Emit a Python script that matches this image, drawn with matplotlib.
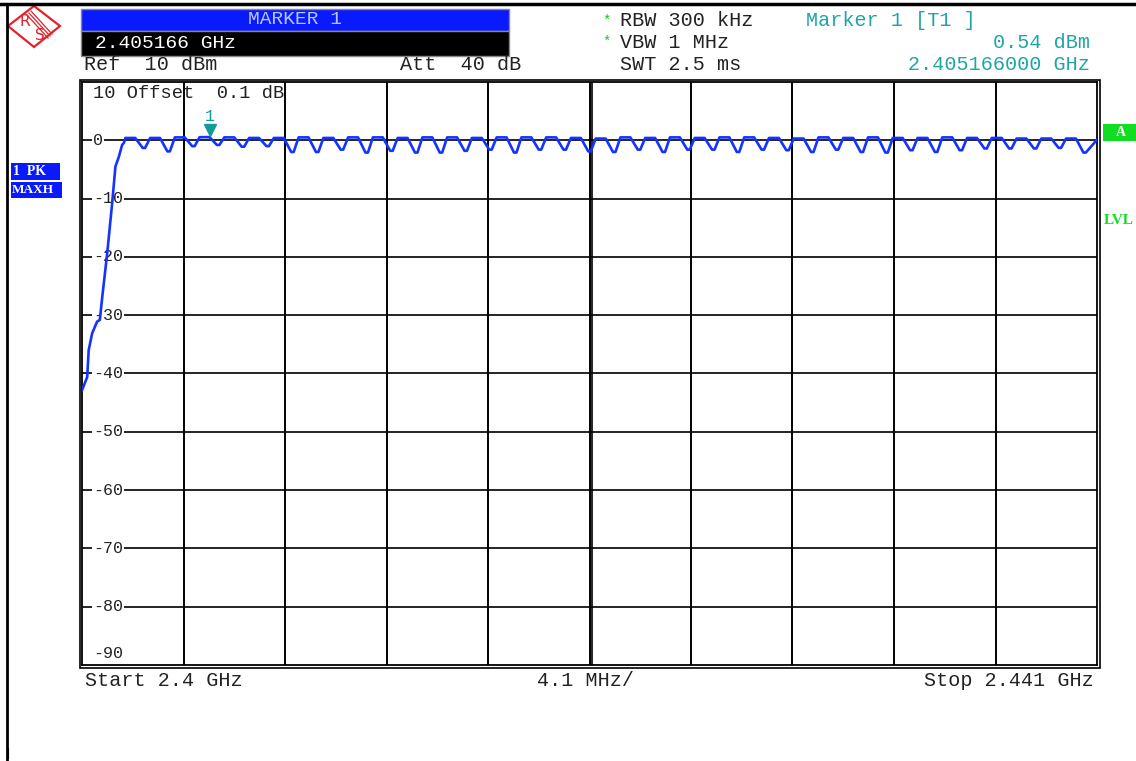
import matplotlib
matplotlib.use("Agg")
import matplotlib.pyplot as plt
from matplotlib.patches import Rectangle, Polygon

plt.rcParams['font.family'] = ['Liberation Mono', 'DejaVu Sans Mono']

# span in MHz from start frequency 2.4 GHz
span_mhz = 41.0
start_label = "Start 2.4 GHz"
stop_label = "Stop 2.441 GHz"
div_label = "4.1 MHz/"
y_ticks = [0, -10, -20, -30, -40, -50, -60, -70, -80]

# skirt at the left edge (MHz, dBm)
skirt_mhz = [0.0, 0.21, 0.27, 0.41, 0.61, 0.72, 0.82, 1.02, 1.22, 1.35, 1.49, 1.62, 1.70]
skirt_dbm = [-42.9, -40.6, -36.0, -33.1, -31.1, -30.8, -26.8, -19.3, -10.7, -4.5, -2.8, -0.8, -0.4]

# hopping channels (MHz offset), plateau level and dip level after each one
channels = list(range(2, 41))
top_dbm = [0.4, 0.4, 0.5, 0.54, 0.5, 0.4, 0.4, 0.5, 0.4, 0.5,
           0.5, 0.4, 0.5, 0.5, 0.4, 0.5, 0.5, 0.5, 0.4, 0.3,
           0.5, 0.4, 0.5, 0.4, 0.5, 0.5, 0.4, 0.3, 0.5, 0.4,
           0.5, 0.4, 0.4, 0.5, 0.4, 0.4, 0.3, 0.3, 0.3]
dip_dbm = [-1.3, -1.9, -1.0, -0.8, -1.1, -1.0, -2.0, -2.0, -1.6, -2.1,
           -1.8, -2.1, -2.1, -1.8, -1.6, -2.1, -1.6, -1.6, -1.9, -2.0,
           -1.6, -2.0, -1.6, -1.6, -2.0, -1.6, -1.7, -2.0, -1.6, -2.0,
           -2.1, -1.7, -2.0, -1.7, -1.4, -1.4, -1.4, -1.3, -2.1]
end_dbm = 0.1

marker_mhz = 5.166
marker_dbm = 0.54

# build the trace polyline
tx = list(skirt_mhz)
ty = list(skirt_dbm)
for c, top, dip in zip(channels, top_dbm, dip_dbm):
    tx += [c - 0.25, c + 0.15, c + 0.45, c + 0.55]
    ty += [top, top, dip, dip]
tx.append(span_mhz)
ty.append(end_dbm)

W, H = 1136, 761
fig = plt.figure(figsize=(W / 100, H / 100), dpi=100)

# overlay in pixel coordinates for the instrument screen furniture
ov = fig.add_axes([0, 0, 1, 1])
ov.set_xlim(0, W)
ov.set_ylim(H, 0)
ov.axis('off')

L, R, T, B = 82, 1097, 82, 665
ax = fig.add_axes([L / W, 1 - B / H, (R - L) / W, (B - T) / H])
ax.set_xlim(0, span_mhz)
ax.set_ylim(-90, 10)
ax.set_xticks([])
ax.set_yticks([])
for s in ax.spines.values():
    s.set_linewidth(1.3)

# grid
for i in range(1, 10):
    ax.axvline(span_mhz / 10 * i, color='black', lw=1.4, zorder=1)
ax.axvline(span_mhz / 2 + 0.12, color='black', lw=1.2, zorder=1)
for v in y_ticks:
    ax.axhline(v, color='black', lw=1.2, zorder=1)
    ax.text(0.45, v, f"{v}", ha='left', va='center', fontsize=12, color='#222222',
            bbox=dict(facecolor='white', edgecolor='none', pad=1), zorder=2)
ax.text(0.45, -88, "-90", ha='left', va='center', fontsize=12, color='#222222', zorder=2)
ax.text(0.45, 8, "10 Offset  0.1 dB", ha='left', va='center', fontsize=13.5,
        color='#222222', zorder=0)

# trace
ax.plot(tx, ty, color='#1433ff', lw=1.9, zorder=3)

# marker
ax.plot([marker_mhz], [marker_dbm + 1.3], marker='v', ms=9, color='#139a9a',
        zorder=4, clip_on=False)
ax.text(marker_mhz, marker_dbm + 3.6, "1", ha='center', va='center', fontsize=12,
        color='#139a9a', zorder=4)

# outer double frame
ov.add_patch(Rectangle((L - 2.5, T - 2.5), R - L + 5, B - T + 5, fill=False,
                       edgecolor='black', lw=1.2))

# page edges
ov.plot([7, 7], [4, H], color='black', lw=2)
ov.plot([0, W], [4, 4], color='black', lw=2.5)
ov.plot([8, 8], [748, 758], color='black', lw=0.8)

# R&S logo
red = '#e3222c'
ov.add_patch(Polygon([(8, 26), (34, 6), (60, 26), (34, 47)], closed=True, fill=False,
                     edgecolor=red, lw=1.6))
for d in (-2.0, 0, 2.0):
    ov.plot([29 + d, 50 + d], [13 - d, 36 - d], color=red, lw=0.9)
ov.text(25, 21, "R", color=red, fontsize=11, ha='center', va='center', family='DejaVu Sans')
ov.text(40, 35, "S", color=red, fontsize=11, ha='center', va='center', family='DejaVu Sans')

# marker info box
ov.add_patch(Rectangle((81, 9), 428, 22, facecolor='#0a1aff', edgecolor='#888888', lw=1))
ov.add_patch(Rectangle((81, 31), 428, 25, facecolor='black', edgecolor='#888888', lw=1))
ov.text(295, 20, "MARKER 1", ha='center', va='center', fontsize=14, color='#b8c4ff')
ov.text(95, 43, "2.405166 GHz", ha='left', va='center', fontsize=14, color='white')

fs = 14.5
dark = '#222222'
teal = '#1ea5a5'
ov.text(84, 65, "Ref  10 dBm", ha='left', va='center', fontsize=fs, color=dark)
ov.text(400, 65, "Att  40 dB", ha='left', va='center', fontsize=fs, color=dark)
ov.text(607, 21, "*", ha='center', va='center', fontsize=10, color='#1ec81e')
ov.text(607, 42, "*", ha='center', va='center', fontsize=10, color='#1ec81e')
ov.text(620, 21, "RBW 300 kHz", ha='left', va='center', fontsize=fs, color=dark)
ov.text(620, 42, "VBW 1 MHz", ha='left', va='center', fontsize=fs, color=dark)
ov.text(620, 64, "SWT 2.5 ms", ha='left', va='center', fontsize=fs, color=dark)
ov.text(806, 21, "Marker 1 [T1 ]", ha='left', va='center', fontsize=fs, color=teal)
ov.text(1090, 42, "0.54 dBm", ha='right', va='center', fontsize=fs, color=teal)
ov.text(1090, 64, "2.405166000 GHz", ha='right', va='center', fontsize=fs, color=teal)

# left trace labels
blue = '#0a1aff'
ov.add_patch(Rectangle((11, 163), 49, 17, facecolor=blue, edgecolor='none'))
ov.add_patch(Rectangle((11, 182), 51, 16, facecolor=blue, edgecolor='none'))
ov.text(13, 171.5, "1  PK", ha='left', va='center', fontsize=10, color='white', weight='bold',
        family='Liberation Serif')
ov.text(12, 190, "MAXH", ha='left', va='center', fontsize=9.5, color='white', weight='bold',
        family='Liberation Serif')

# right labels
green = '#11dd22'
ov.add_patch(Rectangle((1103, 124), 33, 17, facecolor=green, edgecolor='none'))
ov.text(1121, 132, "A", ha='center', va='center', fontsize=10, color='white', weight='bold',
        family='Liberation Serif')
ov.text(1104, 221, "LVL", ha='left', va='center', fontsize=11, color=green, weight='bold',
        family='Liberation Serif')

# bottom labels
ov.text(85, 681, start_label, ha='left', va='center', fontsize=fs, color=dark)
ov.text(537, 681, div_label, ha='left', va='center', fontsize=fs, color=dark)
ov.text(1094, 681, stop_label, ha='right', va='center', fontsize=fs, color=dark)

fig.savefig("out.png", dpi=100)
